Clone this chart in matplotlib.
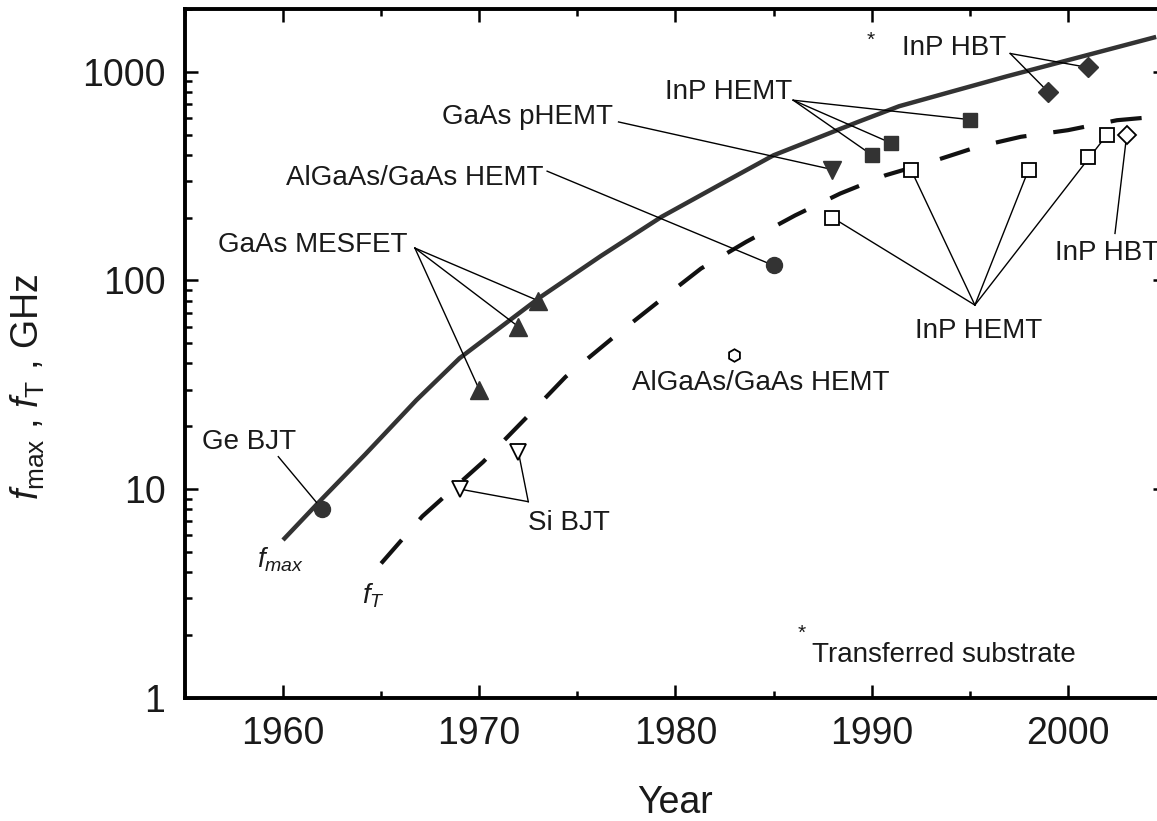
import matplotlib
matplotlib.use("Agg")
import matplotlib.pyplot as plt
from matplotlib.ticker import FixedLocator, MultipleLocator, NullFormatter, LogLocator

plt.rcParams["font.family"] = ["Liberation Sans", "DejaVu Sans"]
plt.rcParams["mathtext.fontset"] = "custom"
plt.rcParams["mathtext.rm"] = "Liberation Sans"
plt.rcParams["mathtext.it"] = "Liberation Sans:italic"

# ---------------------------------------------------------------------------
# Data (GHz vs year)
# ---------------------------------------------------------------------------

# trend lines
fmax_year = [1960.0, 1962.0, 1964.2, 1966.8, 1969.0, 1973.1, 1976.2, 1979.3,
             1982.3, 1985.0, 1989.3, 1991.4, 1994.0, 1996.9, 2004.5]
fmax_ghz = [5.7, 9.0, 14.7, 26.7, 42.4, 83, 131, 202, 289, 398, 575, 684,
            800, 952, 1470]

ft_year = [1965.0, 1967.1, 1970.2, 1972.6, 1974.4, 1976.8, 1979.2, 1981.3, 1983.6,
           1986.1, 1988.4, 1990.7, 1993.1, 1995.4, 1997.6, 2000.0, 2002.5, 2004.4]
ft_ghz = [4.4, 7.4, 13.5, 23, 34.5, 53, 80, 114, 153, 205, 261, 319, 372, 437,
          488, 525, 586, 608]

# device points, fmax (filled) and fT (open)
ge_bjt_year, ge_bjt_ghz = [1962], [8]
si_bjt_year, si_bjt_ghz = [1969, 1972], [10, 15]
mesfet_year, mesfet_ghz = [1970, 1972, 1973], [30, 60, 80]
hemt_fmax_year, hemt_fmax_ghz = [1985], [118]
hemt_ft_year, hemt_ft_ghz = [1983], [44]
phemt_year, phemt_ghz = [1988], [340]
inp_hemt_fmax_year, inp_hemt_fmax_ghz = [1990, 1991, 1995], [400, 455, 590]
inp_hbt_fmax_year, inp_hbt_fmax_ghz = [1999, 2001], [800, 1050]
inp_hemt_ft_year, inp_hemt_ft_ghz = [1988, 1992, 1998, 2001, 2002], [200, 340, 340, 390, 500]
inp_hbt_ft_year, inp_hbt_ft_ghz = [2003], [500]

x_ticks = [1960, 1970, 1980, 1990, 2000]
y_ticks = [1, 10, 100, 1000]

# ---------------------------------------------------------------------------
# Figure
# ---------------------------------------------------------------------------

W, H = 1157, 821
fig = plt.figure(figsize=(W / 100, H / 100), dpi=100)
ax = fig.add_axes([184.9 / W, 1 - 697.7 / H, (1166 - 184.9) / W, (697.7 - 9) / H])
ax.set_yscale("log")
ax.set_xlim(1955, 2005)
ax.set_ylim(1, 2000)

DARK = "#333333"
TXT = "#1a1a1a"

ax.plot(fmax_year, fmax_ghz, color=DARK, lw=3.2, solid_capstyle="butt",
        solid_joinstyle="round", zorder=2)
ax.plot(ft_year, ft_ghz, color="#111111", lw=3.0, linestyle=(0, (7.5, 6.5)),
        dash_capstyle="butt", zorder=2)


def leader(x0, y0, xs, ys):
    for x1, y1 in zip(xs, ys):
        ax.plot([x0, x1], [y0, y1], color="black", lw=1.0, zorder=3)


leader(1959.76, 14.3, ge_bjt_year, ge_bjt_ghz)
leader(1972.5, 8.7, si_bjt_year, si_bjt_ghz)
leader(1966.72, 143, mesfet_year, mesfet_ghz)
leader(1973.46, 334, hemt_fmax_year, hemt_fmax_ghz)
leader(1977.1, 575, phemt_year, phemt_ghz)
leader(1986.0, 731, inp_hemt_fmax_year, inp_hemt_fmax_ghz)
leader(1997.06, 1224, inp_hbt_fmax_year, inp_hbt_fmax_ghz)
leader(1995.26, 76.2, [1988, 1992, 1998, 2002], [200, 340, 340, 500])
leader(2002.4, 168, inp_hbt_ft_year, inp_hbt_ft_ghz)

filled = dict(linestyle="none", color=DARK, markeredgecolor=DARK, zorder=5)
hollow = dict(linestyle="none", markerfacecolor="white", markeredgecolor="black",
              markeredgewidth=1.3, zorder=5)

ax.plot(ge_bjt_year, ge_bjt_ghz, marker="o", ms=11.5, **filled)
ax.plot(mesfet_year, mesfet_ghz, marker="^", ms=13, **filled)
ax.plot(hemt_fmax_year, hemt_fmax_ghz, marker="o", ms=11.5, **filled)
ax.plot(phemt_year, phemt_ghz, marker="v", ms=13, **filled)
ax.plot(inp_hemt_fmax_year, inp_hemt_fmax_ghz, marker="s", ms=10.5, **filled)
ax.plot(inp_hbt_fmax_year, inp_hbt_fmax_ghz, marker="D", ms=10.5, **filled)

ax.plot(si_bjt_year, si_bjt_ghz, marker="v", ms=12, **hollow)
ax.plot(hemt_ft_year, hemt_ft_ghz, marker="h", ms=9, **hollow)
ax.plot(inp_hemt_ft_year, inp_hemt_ft_ghz, marker="s", ms=10.5, **hollow)
ax.plot(inp_hbt_ft_year, inp_hbt_ft_ghz, marker="D", ms=9.5, **hollow)

# labels (left edge, baseline)
fs = 20
labels = [
    ("Ge BJT", 1955.85, 15.5),
    ("Si BJT", 1972.48, 6.36),
    ("GaAs MESFET", 1956.7, 136.8),
    ("AlGaAs/GaAs HEMT", 1960.15, 286),
    ("GaAs pHEMT", 1968.09, 560),
    ("InP HEMT", 1979.46, 737),
    ("InP HBT", 1991.54, 1202),
    ("InP HBT", 1999.35, 125),
    ("InP HEMT", 1992.2, 52.9),
    ("AlGaAs/GaAs HEMT", 1977.78, 29.8),
    ("Transferred substrate", 1986.95, 1.48),
]
for s, x, y in labels:
    ax.text(x, y, s, fontsize=fs, color=TXT, ha="left", va="baseline", zorder=6)

ax.text(1989.96, 1416, "*", fontsize=15, color=TXT, ha="center", va="center")
ax.text(1986.43, 2.04, "*", fontsize=15, color=TXT, ha="center", va="center")

ax.text(1958.66, 4.23, r"$f_{max}$", fontsize=20, color=TXT, ha="left", va="baseline")
ax.text(1964.02, 2.84, r"$f_{T}$", fontsize=20, color=TXT, ha="left", va="baseline")

# axes styling
for side in ["left", "right", "top", "bottom"]:
    ax.spines[side].set_linewidth(2.8)
ax.tick_params(which="both", direction="in", top=True, right=True, width=1.8,
               labelsize=27, colors="black")
ax.tick_params(which="major", length=9.5)
ax.tick_params(which="minor", length=5)
ax.tick_params(axis="x", pad=13)
ax.tick_params(axis="y", pad=14)

ax.xaxis.set_major_locator(FixedLocator(x_ticks))
ax.xaxis.set_minor_locator(MultipleLocator(5))
ax.set_xticklabels([str(t) for t in x_ticks])
ax.yaxis.set_major_locator(FixedLocator(y_ticks))
ax.yaxis.set_minor_locator(LogLocator(base=10, subs=range(2, 10)))
ax.yaxis.set_minor_formatter(NullFormatter())
ax.set_yticklabels([str(t) for t in y_ticks])
for lbl in ax.get_xticklabels() + ax.get_yticklabels():
    lbl.set_color("#1a1a1a")

fig.text(675 / W, 1 - 813 / H, "Year", fontsize=27, color=TXT,
         ha="center", va="baseline")
fig.text(28 / W, 1 - 387 / H, r"$f_{\rm max}$ , $f_{\rm T}$ , GHz", fontsize=27,
         color=TXT, rotation=90, ha="center", va="center")

fig.savefig("out.png", dpi=100)
